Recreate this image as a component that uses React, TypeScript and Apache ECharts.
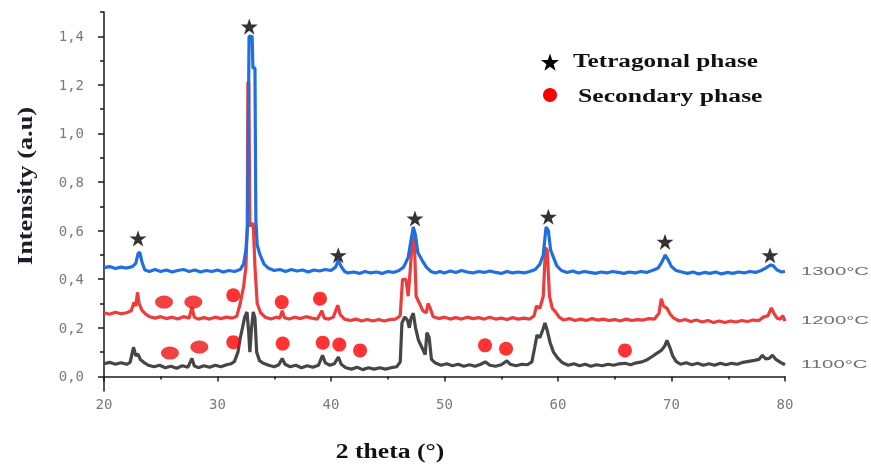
import { useEffect, useRef } from 'react';
import * as echarts from 'echarts';

// XRD patterns [2θ (°), intensity (a.u.)], stacked by sintering temperature
const pattern1300: [number, number][] = [
  [20.0, 0.448], [20.5, 0.452], [21.0, 0.444], [21.5, 0.450], [22.0, 0.446], [22.5, 0.452], [22.8, 0.465],
  [23.0, 0.505], [23.15, 0.512], [23.35, 0.47], [23.6, 0.438], [24.0, 0.432], [24.5, 0.440], [25.0, 0.432],
  [25.5, 0.438], [26.0, 0.430], [26.5, 0.436], [27.0, 0.440], [27.5, 0.432], [28.0, 0.438], [28.5, 0.430],
  [29.0, 0.436], [29.5, 0.432], [30.0, 0.438], [30.5, 0.430], [31.0, 0.436], [31.5, 0.432], [32.0, 0.440],
  [32.3, 0.462], [32.5, 0.52], [32.65, 0.62], [32.78, 1.40], [33.05, 1.40], [33.12, 1.27], [33.3, 1.27],
  [33.38, 0.64], [33.5, 0.54], [33.75, 0.50], [34.1, 0.462], [34.5, 0.445], [35.0, 0.436],
  [35.5, 0.440], [36.0, 0.432], [36.5, 0.440], [37.0, 0.434], [37.5, 0.438], [38.0, 0.430], [38.5, 0.438],
  [39.0, 0.434], [39.5, 0.440], [40.0, 0.436], [40.4, 0.450], [40.65, 0.478], [40.9, 0.452], [41.2, 0.432],
  [41.5, 0.426], [42.0, 0.430], [42.5, 0.424], [43.0, 0.432], [43.5, 0.426], [44.0, 0.430], [44.5, 0.424],
  [45.0, 0.432], [45.5, 0.428], [46.0, 0.436], [46.4, 0.450], [46.8, 0.49], [47.05, 0.56], [47.25, 0.615],
  [47.45, 0.58], [47.65, 0.51], [48.0, 0.48], [48.4, 0.45], [48.8, 0.432], [49.2, 0.426], [49.6, 0.432],
  [50.0, 0.426], [50.5, 0.434], [51.0, 0.428], [51.5, 0.436], [52.0, 0.430], [52.5, 0.426], [53.0, 0.432],
  [53.5, 0.428], [54.0, 0.434], [54.5, 0.428], [55.0, 0.424], [55.5, 0.432], [56.0, 0.426], [56.5, 0.430],
  [57.0, 0.426], [57.5, 0.432], [58.0, 0.440], [58.4, 0.462], [58.7, 0.50], [58.95, 0.615], [59.15, 0.60],
  [59.35, 0.52], [59.6, 0.49], [59.9, 0.455], [60.3, 0.436], [60.8, 0.428], [61.3, 0.434], [61.8, 0.426],
  [62.3, 0.432], [62.8, 0.428], [63.3, 0.424], [63.8, 0.430], [64.3, 0.426], [64.8, 0.432], [65.3, 0.428],
  [65.8, 0.424], [66.3, 0.430], [66.8, 0.426], [67.3, 0.432], [67.8, 0.428], [68.3, 0.436], [68.8, 0.445],
  [69.1, 0.466], [69.45, 0.50], [69.7, 0.48], [70.0, 0.452], [70.4, 0.436], [70.9, 0.430], [71.4, 0.424],
  [71.9, 0.430], [72.4, 0.422], [72.9, 0.428], [73.4, 0.424], [73.9, 0.430], [74.4, 0.422], [74.9, 0.428],
  [75.4, 0.424], [75.9, 0.430], [76.4, 0.426], [76.9, 0.432], [77.4, 0.428], [77.9, 0.436], [78.3, 0.446],
  [78.7, 0.458], [78.95, 0.456], [79.3, 0.438], [79.7, 0.430], [80.0, 0.432],
];

const pattern1200: [number, number][] = [
  [20.0, 0.262], [20.5, 0.256], [21.0, 0.264], [21.5, 0.258], [22.0, 0.262], [22.4, 0.270], [22.65, 0.305],
  [22.8, 0.290], [22.95, 0.346], [23.1, 0.30], [23.35, 0.272], [23.7, 0.255], [24.0, 0.246], [24.5, 0.240],
  [25.0, 0.246], [25.5, 0.238], [26.0, 0.244], [26.5, 0.236], [27.0, 0.246], [27.5, 0.240], [27.75, 0.285],
  [27.95, 0.244], [28.3, 0.236], [28.8, 0.242], [29.3, 0.236], [29.8, 0.244], [30.3, 0.238], [30.8, 0.244],
  [31.3, 0.240], [31.7, 0.248], [32.0, 0.30], [32.3, 0.37], [32.5, 0.45], [32.62, 0.61], [32.68, 1.21],
  [32.76, 1.21], [32.85, 0.62], [33.15, 0.63], [33.3, 0.45], [33.5, 0.30], [33.8, 0.262], [34.2, 0.244],
  [34.7, 0.236], [35.2, 0.244], [35.5, 0.240], [35.7, 0.270], [35.9, 0.242], [36.3, 0.236], [36.8, 0.244],
  [37.3, 0.238], [37.8, 0.246], [38.3, 0.240], [38.8, 0.236], [39.2, 0.270], [39.4, 0.240], [39.8, 0.236],
  [40.2, 0.244], [40.6, 0.293], [40.8, 0.255], [41.2, 0.236], [41.7, 0.230], [42.2, 0.236], [42.7, 0.228],
  [43.2, 0.234], [43.7, 0.228], [44.2, 0.234], [44.7, 0.228], [45.2, 0.234], [45.7, 0.236], [46.1, 0.25],
  [46.3, 0.40], [46.6, 0.40], [46.8, 0.33], [47.0, 0.45], [47.2, 0.58], [47.35, 0.55], [47.5, 0.33],
  [47.8, 0.30], [48.1, 0.27], [48.4, 0.262], [48.55, 0.30], [48.75, 0.28], [49.0, 0.246], [49.5, 0.238],
  [50.0, 0.244], [50.5, 0.236], [51.0, 0.242], [51.5, 0.236], [52.0, 0.244], [52.5, 0.238], [53.0, 0.242],
  [53.5, 0.236], [54.0, 0.244], [54.5, 0.236], [55.0, 0.240], [55.5, 0.234], [56.0, 0.242], [56.5, 0.236],
  [57.0, 0.240], [57.5, 0.236], [57.9, 0.25], [58.1, 0.29], [58.4, 0.28], [58.7, 0.33], [58.9, 0.53],
  [59.05, 0.52], [59.25, 0.33], [59.5, 0.28], [59.75, 0.268], [60.1, 0.244], [60.5, 0.232], [61.0, 0.238],
  [61.5, 0.230], [62.0, 0.236], [62.5, 0.230], [63.0, 0.238], [63.5, 0.232], [64.0, 0.236], [64.5, 0.230],
  [65.0, 0.234], [65.5, 0.228], [66.0, 0.236], [66.5, 0.230], [67.0, 0.234], [67.5, 0.232], [68.0, 0.238],
  [68.5, 0.236], [68.9, 0.26], [69.1, 0.32], [69.3, 0.29], [69.6, 0.28], [69.9, 0.255], [70.2, 0.240],
  [70.7, 0.228], [71.2, 0.234], [71.7, 0.226], [72.2, 0.232], [72.7, 0.224], [73.2, 0.230], [73.7, 0.222],
  [74.2, 0.228], [74.7, 0.222], [75.2, 0.228], [75.7, 0.224], [76.2, 0.230], [76.7, 0.226], [77.2, 0.232],
  [77.7, 0.230], [78.1, 0.244], [78.5, 0.250], [78.8, 0.282], [79.0, 0.262], [79.3, 0.240], [79.6, 0.236],
  [79.8, 0.250], [80.0, 0.228],
];

const pattern1100: [number, number][] = [
  [20.0, 0.052], [20.5, 0.058], [21.0, 0.050], [21.5, 0.056], [22.0, 0.050], [22.3, 0.058], [22.6, 0.120],
  [22.8, 0.085], [23.0, 0.092], [23.2, 0.070], [23.5, 0.058], [23.9, 0.046], [24.4, 0.040], [24.9, 0.046],
  [25.4, 0.036], [25.9, 0.042], [26.4, 0.034], [26.9, 0.044], [27.4, 0.038], [27.75, 0.074], [27.95, 0.044],
  [28.3, 0.036], [28.8, 0.044], [29.3, 0.038], [29.8, 0.046], [30.3, 0.040], [30.8, 0.048], [31.2, 0.052],
  [31.5, 0.062], [31.8, 0.10], [32.0, 0.157], [32.2, 0.20], [32.4, 0.245], [32.6, 0.265], [32.75, 0.18],
  [32.85, 0.10], [33.0, 0.20], [33.15, 0.265], [33.3, 0.24], [33.45, 0.10], [33.7, 0.065], [34.0, 0.055],
  [34.5, 0.046], [35.0, 0.040], [35.4, 0.048], [35.7, 0.074], [35.95, 0.050], [36.4, 0.040], [36.9, 0.046],
  [37.4, 0.036], [37.9, 0.044], [38.4, 0.038], [38.9, 0.046], [39.25, 0.087], [39.5, 0.056], [39.9, 0.046],
  [40.3, 0.052], [40.65, 0.080], [40.9, 0.050], [41.3, 0.036], [41.8, 0.030], [42.3, 0.038], [42.8, 0.028],
  [43.3, 0.036], [43.8, 0.030], [44.3, 0.036], [44.8, 0.030], [45.3, 0.036], [45.8, 0.040], [46.1, 0.06],
  [46.25, 0.22], [46.5, 0.245], [46.75, 0.23], [46.9, 0.20], [47.05, 0.24], [47.25, 0.26], [47.45, 0.20],
  [47.7, 0.15], [48.0, 0.12], [48.3, 0.09], [48.45, 0.18], [48.65, 0.16], [48.85, 0.07], [49.2, 0.055],
  [49.7, 0.046], [50.2, 0.052], [50.7, 0.044], [51.2, 0.050], [51.7, 0.042], [52.2, 0.048], [52.7, 0.042],
  [53.2, 0.050], [53.6, 0.060], [54.0, 0.046], [54.5, 0.042], [55.0, 0.048], [55.5, 0.064], [55.8, 0.050],
  [56.3, 0.044], [56.8, 0.050], [57.3, 0.048], [57.7, 0.060], [57.95, 0.12], [58.15, 0.17], [58.4, 0.16],
  [58.65, 0.19], [58.85, 0.22], [59.05, 0.19], [59.3, 0.14], [59.6, 0.10], [60.0, 0.074], [60.4, 0.056],
  [60.9, 0.046], [61.4, 0.052], [61.9, 0.044], [62.4, 0.050], [62.9, 0.042], [63.4, 0.048], [63.9, 0.044],
  [64.4, 0.050], [64.9, 0.046], [65.4, 0.052], [65.9, 0.054], [66.4, 0.048], [66.9, 0.056], [67.4, 0.060],
  [67.9, 0.070], [68.3, 0.082], [68.7, 0.095], [69.1, 0.107], [69.4, 0.125], [69.6, 0.148], [69.85, 0.12],
  [70.1, 0.085], [70.4, 0.062], [70.8, 0.050], [71.3, 0.056], [71.8, 0.048], [72.3, 0.054], [72.8, 0.046],
  [73.3, 0.052], [73.8, 0.046], [74.3, 0.054], [74.8, 0.048], [75.3, 0.054], [75.8, 0.050], [76.3, 0.058],
  [76.8, 0.062], [77.3, 0.066], [77.7, 0.070], [78.0, 0.087], [78.3, 0.072], [78.6, 0.074], [78.9, 0.087],
  [79.2, 0.070], [79.6, 0.058], [80.0, 0.048],
];

// Phase identification markers
const tetragonalPeaks: [number, number][] = [
  [23.0, 0.568], [32.8, 1.44], [40.64, 0.499], [47.4, 0.650], [59.15, 0.657], [69.43, 0.554], [78.68, 0.499],
];
const secondaryPeaks: [number, number][] = [
  [31.39, 0.334], [35.66, 0.306], [39.03, 0.320],
  [31.39, 0.141], [35.74, 0.135], [39.27, 0.139], [40.73, 0.131], [42.56, 0.107],
  [53.57, 0.128], [55.42, 0.114], [65.9, 0.107],
];
const secondaryBroadPeaks: [number, number][] = [
  [25.29, 0.306], [27.87, 0.306], [25.81, 0.096], [28.40, 0.121],
];

const temperatures = ['1300°C', '1200°C', '1100°C'];
const yTicks = [0, 0.2, 0.4, 0.6, 0.8, 1.0, 1.2, 1.4];
const yMinorTicks = [0.1, 0.3, 0.5, 0.7, 0.9, 1.1, 1.3, 1.5];

const STAR = 'path://M50 0 L61.8 35.1 L98.9 35.1 L69 57.3 L80.3 92.7 L50 71 L19.7 92.7 L31 57.3 L1.1 35.1 L38.2 35.1 Z';
const AXIS = '#1a1a1a';
const TICK_TEXT = '#7a7a7a';

function starPoints(cx: number, cy: number, R: number) {
  const pts: number[][] = [];
  for (let i = 0; i < 10; i++) {
    const r = i % 2 === 0 ? R : R * 0.4;
    const a = -Math.PI / 2 + (i * Math.PI) / 5;
    pts.push([cx + r * Math.cos(a), cy + r * Math.sin(a)]);
  }
  return pts;
}

export default function App() {
  const ref = useRef<HTMLDivElement>(null);

  useEffect(() => {
    const chart = echarts.init(ref.current!, null, { renderer: 'svg' });

    const line = (name: string, data: [number, number][], color: string, z: number) => ({
      type: 'line',
      name,
      data,
      symbol: 'none',
      showSymbol: false,
      silent: true,
      z,
      lineStyle: { color, width: 3.2 },
      itemStyle: { color },
    });

    chart.setOption({
      animation: false,
      grid: { left: 104, right: 86, top: 12, bottom: 77 },
      xAxis: {
        type: 'value',
        min: 20,
        max: 80,
        interval: 10,
        axisLine: { lineStyle: { color: AXIS, width: 1.5 } },
        axisTick: { length: 5, lineStyle: { color: AXIS, width: 1.5 } },
        minorTick: { show: true, splitNumber: 2, length: 3, lineStyle: { color: AXIS, width: 1.5 } },
        axisLabel: { margin: 6, color: TICK_TEXT, fontFamily: 'DejaVu Sans Mono', fontSize: 14 },
        splitLine: { show: false },
        minorSplitLine: { show: false },
      },
      yAxis: [
        {
          type: 'value',
          min: -0.06,
          max: 1.5,
          axisLine: { show: true, lineStyle: { color: AXIS, width: 1.5 } },
          axisTick: { show: true, customValues: yTicks, length: 6, lineStyle: { color: AXIS, width: 1.5 } },
          axisLabel: {
            customValues: yTicks,
            formatter: (v: number) => v.toFixed(1).replace('.', ','),
            margin: 20,
            color: TICK_TEXT,
            fontFamily: 'DejaVu Sans Mono',
            fontSize: 14,
          },
          splitLine: { show: false },
        },
        {
          type: 'value',
          min: -0.06,
          max: 1.5,
          position: 'left',
          axisLine: { show: false },
          axisTick: { show: true, customValues: yMinorTicks, length: 4, lineStyle: { color: AXIS, width: 1.5 } },
          axisLabel: { show: false },
          splitLine: { show: false },
        },
      ],
      series: [
        line(temperatures[2], pattern1100, '#464646', 2),
        line(temperatures[1], pattern1200, '#eb3d3d', 3),
        line(temperatures[0], pattern1300, '#1f6fe0', 4),
        {
          type: 'scatter',
          name: 'Tetragonal phase',
          data: tetragonalPeaks,
          symbol: STAR,
          symbolKeepAspect: true,
          symbolSize: 17,
          itemStyle: { color: '#000' },
          z: 6,
          silent: true,
        },
        {
          type: 'scatter',
          name: 'Secondary phase',
          data: secondaryPeaks,
          symbol: 'circle',
          symbolSize: 14,
          itemStyle: { color: '#ff0000' },
          z: 6,
          silent: true,
        },
        {
          type: 'scatter',
          name: 'Secondary phase',
          data: secondaryBroadPeaks,
          symbol: 'circle',
          symbolSize: [18, 13],
          itemStyle: { color: '#ee1111' },
          z: 6,
          silent: true,
        },
      ],
    });

    // Temperature tags beside the last point of each pattern
    const ends = [pattern1300, pattern1200, pattern1100].map(
      (p) => chart.convertToPixel({ gridIndex: 0 }, p[p.length - 1]) as number[],
    );

    chart.setOption({
      graphic: [
        {
          type: 'text',
          x: 24,
          y: 186,
          rotation: Math.PI / 2,
          scaleX: 1.2,
          style: {
            text: 'Intensity (a.u)',
            fontFamily: 'Liberation Serif',
            fontWeight: 'bold',
            fontSize: 22,
            fill: '#1e1e2a',
            textAlign: 'center',
            textVerticalAlign: 'middle',
          },
        },
        {
          type: 'text',
          x: 390,
          y: 451,
          scaleX: 1.28,
          style: {
            text: '2 theta (°)',
            fontFamily: 'Liberation Serif',
            fontWeight: 'bold',
            fontSize: 20,
            fill: '#111',
            textAlign: 'center',
            textVerticalAlign: 'middle',
          },
        },
        { type: 'polygon', shape: { points: starPoints(550, 63, 9.5) }, style: { fill: '#000' } },
        { type: 'circle', shape: { cx: 550, cy: 95, r: 7 }, style: { fill: '#ff0000' } },
        {
          type: 'text',
          x: 573,
          y: 61,
          scaleX: 1.33,
          style: {
            text: 'Tetragonal phase',
            fontFamily: 'Liberation Serif',
            fontWeight: 'bold',
            fontSize: 19,
            fill: '#111',
            textAlign: 'left',
            textVerticalAlign: 'middle',
          },
        },
        {
          type: 'text',
          x: 578,
          y: 96,
          scaleX: 1.35,
          style: {
            text: 'Secondary phase',
            fontFamily: 'Liberation Serif',
            fontWeight: 'bold',
            fontSize: 19,
            fill: '#111',
            textAlign: 'left',
            textVerticalAlign: 'middle',
          },
        },
        ...temperatures.map((t, i) => ({
          type: 'text',
          x: ends[i][0] + 16,
          y: ends[i][1] - 1,
          scaleX: 1.85,
          style: {
            text: t,
            fontFamily: 'Liberation Sans',
            fontSize: 11,
            fill: '#707070',
            textAlign: 'left',
            textVerticalAlign: 'middle',
          },
        })),
      ],
    });

    return () => chart.dispose();
  }, []);

  return <div ref={ref} style={{ position: 'fixed', left: 0, top: 0, width: 871, height: 468 }} />;
}
